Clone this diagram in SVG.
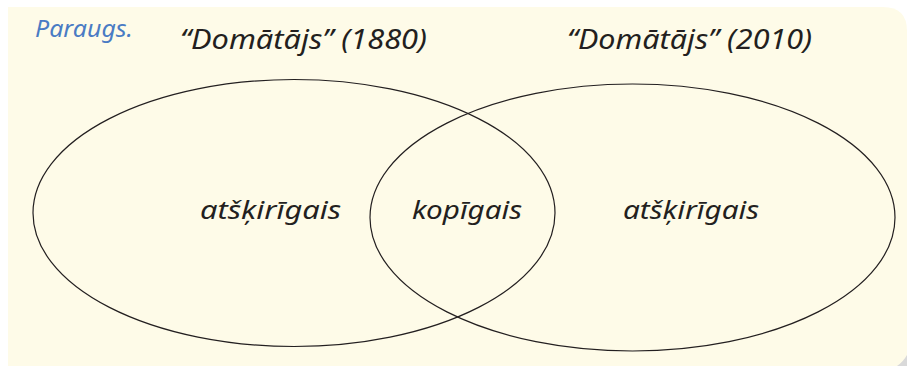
<svg xmlns="http://www.w3.org/2000/svg" width="907" height="366" viewBox="0 0 907 366">
<style>
.t{font-family:"Noto Sans","Liberation Sans",Arial,sans-serif;font-style:italic;fill:#231f20}
.e{fill:none;stroke:#231f20;stroke-width:1.2}
</style>
<rect width="907" height="366" fill="#ffffff"/>
<path d="M8 7 H883 Q907 7 907 31 V366 H8 Z" fill="#fefbe8"/>
<path d="M897 366 Q903 362 907 355 V366 Z" fill="#d9d9d9"/>
<g id="left-set"><ellipse class="e" cx="294" cy="213" rx="261" ry="133.5"/></g>
<g id="right-set"><ellipse class="e" cx="632.5" cy="217.5" rx="262.5" ry="133.5"/></g>
<g id="connectors"></g>
<text x="35" y="37" class="t" style="fill:#4a7bc4" font-size="24" textLength="98" lengthAdjust="spacingAndGlyphs">Paraugs.</text>
<text x="180" y="49" class="t" font-size="27" textLength="247" lengthAdjust="spacingAndGlyphs">“Domātājs” (1880)</text>
<text x="567" y="49" class="t" font-size="27" textLength="245" lengthAdjust="spacingAndGlyphs">“Domātājs” (2010)</text>
<text x="200" y="219" class="t" font-size="26" textLength="141" lengthAdjust="spacingAndGlyphs">atšķirīgais</text>
<text x="412" y="219" class="t" font-size="26" textLength="110" lengthAdjust="spacingAndGlyphs">kopīgais</text>
<text x="623" y="219" class="t" font-size="26" textLength="136" lengthAdjust="spacingAndGlyphs">atšķirīgais</text>
</svg>
